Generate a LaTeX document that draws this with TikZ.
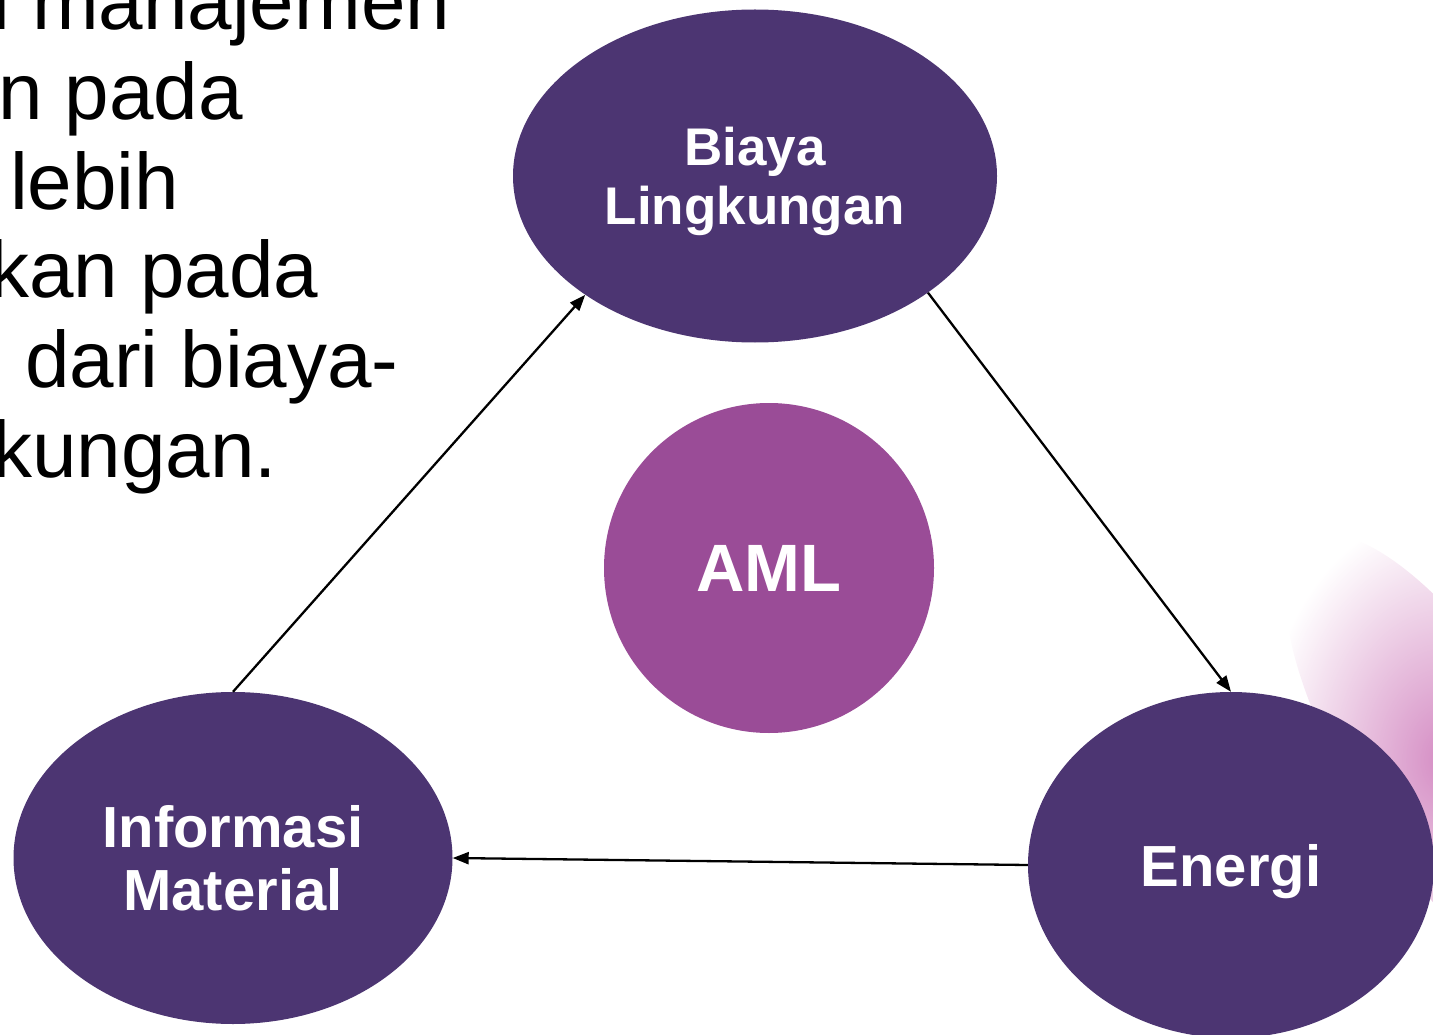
\documentclass[tikz,border=0pt]{standalone}
\usepackage{fontspec}
\setmainfont{Liberation Sans}
\usetikzlibrary{arrows.meta,shapes.geometric,fadings}
\definecolor{ungu}{RGB}{76,53,114}
\definecolor{ungumuda}{RGB}{154,76,151}
\definecolor{merahmuda}{RGB}{205,120,185}
\tikzfading[name=pudar, inner color=transparent!15, outer color=transparent!100]
\tikzset{
  bulat/.style={ellipse, fill=ungu, draw=none, inner sep=0pt, text=white, align=center, text depth=0pt},
  panah/.style={-{Triangle[length=16pt,width=12pt]}, line width=2.3pt},
  baris/.style={anchor=base west, inner sep=0pt, font=\fontsize{80}{89}\selectfont}
}
\begin{document}
\begin{tikzpicture}[x=1pt,y=-1pt]
  \clip (0,0) rectangle (1433,1035);
  % latar kanan
  \fill[merahmuda, path fading=pudar, rotate around={-58:(1445,760)}]
    (1445,760) ellipse [x radius=260pt, y radius=95pt];
  % teks kiri
  \node[baris] (t1) at (-8,30) {i manajemen};
  \node[baris] (t2) at (-2,120) {n pada};
  \node[baris] (t3) at (10,210) {lebih};
  \node[baris] (t4) at (-11,298) {kan pada};
  \node[baris] (t5) at (25,387) {dari biaya-};
  \node[baris] (t6) at (-8,477) {kungan.};
  % lingkaran
  \node[bulat, minimum width=484pt, minimum height=333pt,
    font=\bfseries\fontsize{53}{59}\selectfont] (bia) at (755,176) {Biaya\\Lingkungan};
  \node[bulat, circle, fill=ungumuda, minimum size=330pt,
    font=\bfseries\fontsize{67}{67}\selectfont] (aml) at (769,568) {AML};
  \node[bulat, minimum width=439pt, minimum height=332pt,
    font=\bfseries\fontsize{58}{63}\selectfont] (inf) at (233,858) {Informasi\\Material};
  \node[bulat, minimum width=406pt, minimum height=346pt,
    font=\bfseries\fontsize{58}{63}\selectfont] (en) at (1231,865) {Energi};
  % panah
  \draw[panah] (inf.north) -- (bia.215);
  \draw[panah] (bia.-34) -- (en.north);
  \draw[panah] (en.west) -- (inf.east);
\end{tikzpicture}
\end{document}
